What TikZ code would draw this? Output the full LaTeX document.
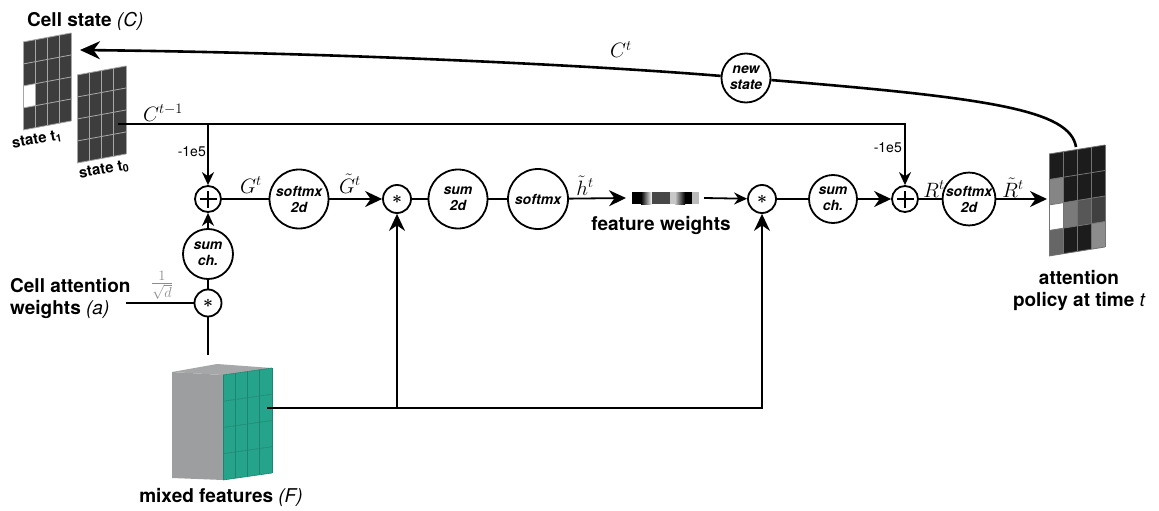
\documentclass[tikz,border=0pt]{standalone}
\usepackage{fontspec}
\setmainfont{TeX Gyre Heros}
\usetikzlibrary{arrows.meta}
\definecolor{teal1}{HTML}{26A48B}
\definecolor{tealline}{HTML}{1A8570}
\definecolor{boxgray}{HTML}{9D9EA0}
\definecolor{boxtopc}{HTML}{A6A7A9}
\definecolor{cellk}{HTML}{3D3D3D}
\definecolor{pk}{HTML}{1C1C1C}
\newcommand\ital[1]{{\mdseries\itshape #1}}
\newcommand\opstar{{\fontsize{19}{19}\selectfont\boldmath$\ast$}}
% x0, y0 (top-left), width, dy (top-right minus top-left), height, line style, 16 colours
\newcommand\skewgrid[7]{%
  \foreach \cc [count=\n from 0] in {#7} {
    \pgfmathtruncatemacro\gi{mod(\n,4)}
    \pgfmathtruncatemacro\gj{div(\n,4)}
    \fill[\cc] ({#1+\gi*(#3)/4},{#2+\gi*(#4)/4+\gj*(#5)/4}) -- ++({(#3)/4},{(#4)/4}) -- ++(0,{(#5)/4}) -- ++({-1*(#3)/4},{-1*(#4)/4}) -- cycle;
  }
  \foreach \k in {0,...,4} {
    \draw[#6] ({#1+\k*(#3)/4},{#2+\k*(#4)/4}) -- ++(0,#5);
    \draw[#6] (#1,{#2+\k*(#5)/4}) -- ++(#3,#4);
  }
}
\begin{document}
\begin{tikzpicture}[x=1pt,y=-1pt,
  conn/.style={line width=1.8pt},
  opc/.style={circle,draw,line width=1.8pt,inner sep=0pt,fill=white,align=center,
    font=\fontsize{14}{16}\selectfont\bfseries\itshape},
  lbl/.style={font=\fontsize{19}{22}\selectfont\bfseries,inner sep=0pt},
  ml/.style={font=\fontsize{21}{24}\selectfont,inner sep=0pt},
  small/.style={font=\fontsize{14}{14}\selectfont,inner sep=0pt},
  arrL/.style={-{Stealth[length=20pt,width=18pt]}},
  arrM/.style={-{Stealth[length=17pt,width=16pt]}},
  arrS/.style={-{Stealth[length=13pt,width=12pt]}}]
\useasboundingbox (0,0) rectangle (1159,511);

% ---------- cell state grids ----------
\skewgrid{23}{42}{48}{-9}{88}{black!35,line width=0.8pt}{cellk,cellk,cellk,cellk,cellk,cellk,cellk,cellk,white,cellk,cellk,cellk,cellk,cellk,cellk,cellk}
\skewgrid{77}{75}{49}{-9}{88}{black!35,line width=0.8pt}{cellk,cellk,cellk,cellk,cellk,cellk,cellk,cellk,cellk,cellk,cellk,cellk,cellk,cellk,cellk,cellk}
\coordinate (c1in) at (80,50);
\coordinate (c0out) at (118,124);

% ---------- policy grid ----------
\skewgrid{1049}{154}{56}{-9}{102}{black!55,line width=0.8pt}{pk,pk,pk,pk,black!48,pk,pk,pk,white,black!52,black!66,black!75,black!60,pk,pk,black!45}
\coordinate (polin) at (1047,199);
\coordinate (poltop) at (1076,147);

% ---------- mixed features box ----------
\fill[boxtopc] (172,372) -- (217,364) -- (272,368) -- (223,375) -- cycle;
\fill[boxgray] (172,372) -- (223,375) -- (223,480) -- (172,478) -- cycle;
\skewgrid{223}{375}{49}{-7}{105}{tealline,line width=0.6pt}{teal1,teal1,teal1,teal1,teal1,teal1,teal1,teal1,teal1,teal1,teal1,teal1,teal1,teal1,teal1,teal1}
\coordinate (mixout) at (267,408);
\coordinate (boxin) at (208,355);
\coordinate (win) at (126,303);

% ---------- feature weights bar ----------
\fill[black] (632,192) rectangle (641,204);
\shade[left color=black,right color=white] (641,192) rectangle (652,204);
\fill[black!72] (652,192) rectangle (670,204);
\fill[black!22] (670,192) rectangle (675,204);
\shade[left color=black!22,right color=black] (675,192) rectangle (685,204);
\fill[black] (685,192) rectangle (692,204);
\fill[black!27] (692,192) rectangle (699,204);
\coordinate (fwin) at (626,198);
\coordinate (fwout) at (704,198);

% ---------- operation nodes ----------
\node[opc,minimum size=26pt] (plusL) at (208,199) {};
\node[opc,minimum size=59pt] (smxL) at (299,199) {softmx\\2d};
\node[opc,minimum size=28pt] (starL) at (397,199) {\opstar};
\node[opc,minimum size=59pt] (sum2d) at (458,199) {sum\\2d};
\node[opc,minimum size=60pt] (smx) at (538,199) {softmx};
\node[opc,minimum size=28pt] (starR) at (762,199) {\opstar};
\node[opc,minimum size=48pt] (sumchR) at (833,199) {sum\\ch.};
\node[opc,minimum size=26pt] (plusR) at (905,199) {};
\node[opc,minimum size=48pt] (smxR) at (969,199) {softmx\\2d};
\node[opc,minimum size=50pt] (sumchL) at (208,254) {sum\\ch.};
\node[opc,minimum size=27pt] (starA) at (208,303) {\opstar};
\node[opc,minimum size=49pt] (newst) at (746,78) {new\\state};
\foreach \p in {plusL,plusR} {
  \draw[line width=1.8pt] ([xshift=-8.5pt]\p.center) -- ([xshift=8.5pt]\p.center);
  \draw[line width=1.8pt] ([yshift=-8.5pt]\p.center) -- ([yshift=8.5pt]\p.center);
}

% ---------- connectors ----------
\draw[conn] (plusL) -- (smxL);
\draw[conn,arrM] (smxL) -- (starL);
\draw[conn] (starL) -- (sum2d);
\draw[conn] (sum2d) -- (smx);
\draw[conn,arrM] (smx) -- (fwin);
\draw[conn,arrS] (fwout) -- (starR);
\draw[conn] (starR) -- (sumchR);
\draw[conn,arrM] (sumchR) -- (plusR);
\draw[conn] (plusR) -- (smxR);
\draw[conn,arrM] (smxR) -- (polin);
\draw[conn,arrS] (sumchL) -- (plusL);
\draw[conn] (starA) -- (sumchL);
\draw[conn] (win) -- (starA);
\draw[conn] (starA) -- (boxin);
\draw[conn,arrS] (c0out) -| (plusR);
\draw[conn,arrS] (c0out -| plusL) -- (plusL);
\draw[conn,arrM] (mixout) -| (starR);
\draw[conn,arrM] (mixout -| starL) -- (starL);
\draw[line width=2.6pt] (poltop) .. controls (1070,110) and (990,98) .. (newst);
\draw[line width=2.6pt,arrL] (newst) .. controls (600,66) and (350,53) .. (c1in);

% ---------- labels ----------
\node[lbl,anchor=west] (tcs) at (27,21) {Cell state \ital{(C)}};
\node[font=\fontsize{15}{15}\selectfont\bfseries,rotate=10,inner sep=0pt] (ts1) at (37,140) {state t\textsubscript{1}};
\node[font=\fontsize{15}{15}\selectfont\bfseries,rotate=10,inner sep=0pt] (ts0) at (104,170) {state t\textsubscript{0}};
\node[small,anchor=east] (m1) at (206,152) {-1e5};
\node[small,anchor=east] (m2) at (902,148) {-1e5};
\node[ml,text=black!45] (frac) at (162,285) {$\frac{1}{\sqrt{d}}$};
\node[lbl,anchor=west,align=left] (tcaw) at (10,298) {Cell attention\\weights \ital{(a)}};
\node[lbl] (tfw) at (661,225) {feature weights};
\node[lbl] (tmf) at (221,497) {mixed features \ital{(F)}};
\node[lbl,align=center] (tap) at (1079,290) {attention\\policy at time \ital{t}};
\node[ml,anchor=base] (lC1) at (163,121) {$C^{t-1}$};
\node[ml,anchor=base] (lC) at (621,58) {$C^t$};
\node[ml,anchor=base] (lG) at (251,193) {$G^t$};
\node[ml,anchor=base] (lGt) at (350,193) {$\tilde{G}^t$};
\node[ml,anchor=base] (lh) at (585,195) {$\tilde{h}^t$};
\node[ml,anchor=base] (lR) at (934,197) {$R^t$};
\node[ml,anchor=base] (lRt) at (1013,197) {$\tilde{R}^t$};
\end{tikzpicture}
\end{document}
